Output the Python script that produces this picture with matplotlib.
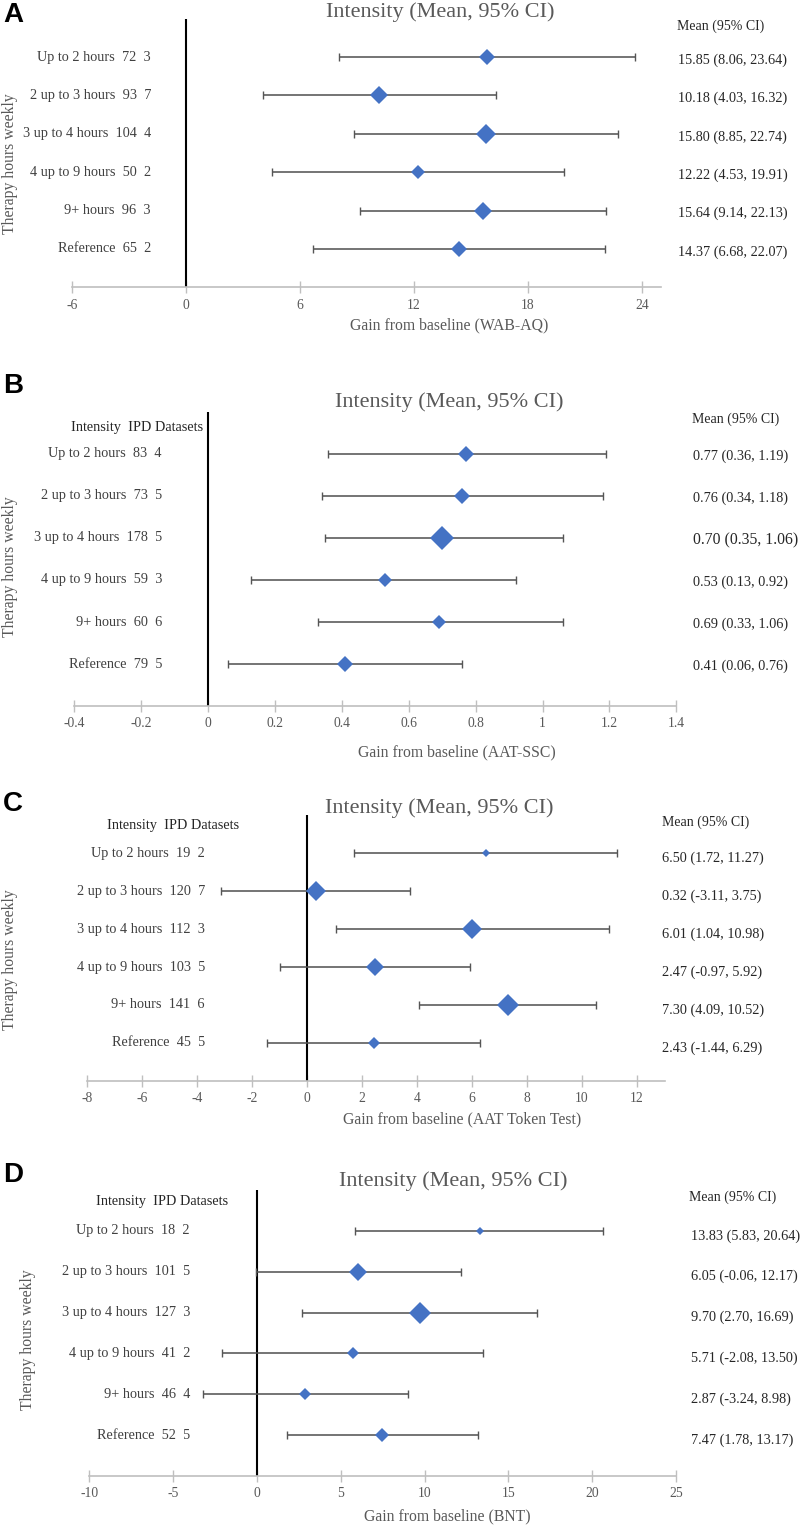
import numpy as np
import matplotlib
matplotlib.use("Agg")
import matplotlib.pyplot as plt
from matplotlib import transforms

plt.rcParams['font.family'] = ['Liberation Serif', 'DejaVu Serif']

# ---------------- data ----------------
categories = ["Up to 2 hours", "2 up to 3 hours", "3 up to 4 hours",
              "4 up to 9 hours", "9+ hours", "Reference"]

wab_ipd = [72, 93, 104, 50, 96, 65]
wab_datasets = [3, 7, 4, 2, 3, 2]
wab_mean = [15.85, 10.18, 15.80, 12.22, 15.64, 14.37]
wab_low = [8.06, 4.03, 8.85, 4.53, 9.14, 6.68]
wab_high = [23.64, 16.32, 22.74, 19.91, 22.13, 22.07]
wab_ticks = [-6, 0, 6, 12, 18, 24]
wab_tick_labels = ["-6", "0", "6", "12", "18", "24"]

ssc_ipd = [83, 73, 178, 59, 60, 79]
ssc_datasets = [4, 5, 5, 3, 6, 5]
ssc_mean = [0.77, 0.76, 0.70, 0.53, 0.69, 0.41]
ssc_low = [0.36, 0.34, 0.35, 0.13, 0.33, 0.06]
ssc_high = [1.19, 1.18, 1.06, 0.92, 1.06, 0.76]
ssc_ticks = [-0.4, -0.2, 0, 0.2, 0.4, 0.6, 0.8, 1.0, 1.2, 1.4]
ssc_tick_labels = ["-0.4", "-0.2", "0", "0.2", "0.4", "0.6", "0.8", "1", "1.2", "1.4"]

tok_ipd = [19, 120, 112, 103, 141, 45]
tok_datasets = [2, 7, 3, 5, 6, 5]
tok_mean = [6.50, 0.32, 6.01, 2.47, 7.30, 2.43]
tok_low = [1.72, -3.11, 1.04, -0.97, 4.09, -1.44]
tok_high = [11.27, 3.75, 10.98, 5.92, 10.52, 6.29]
tok_ticks = [-8, -6, -4, -2, 0, 2, 4, 6, 8, 10, 12]
tok_tick_labels = ["-8", "-6", "-4", "-2", "0", "2", "4", "6", "8", "10", "12"]

bnt_ipd = [18, 101, 127, 41, 46, 52]
bnt_datasets = [2, 5, 3, 2, 4, 5]
bnt_mean = [13.83, 6.05, 9.70, 5.71, 2.87, 7.47]
bnt_marker = [13.3, 6.05, 9.70, 5.71, 2.87, 7.47]   # where the diamonds are drawn
bnt_low = [5.83, -0.06, 2.70, -2.08, -3.24, 1.78]
bnt_high = [20.64, 12.17, 16.69, 13.50, 8.98, 13.17]
bnt_ticks = [-10, -5, 0, 5, 10, 15, 20, 25]
bnt_tick_labels = ["-10", "-5", "0", "5", "10", "15", "20", "25"]

# ---------------- layout (pixels) ----------------
W, H = 800, 1526
fig = plt.figure(figsize=(W / 100, H / 100), dpi=100)

def fx(x):
    return x / W

def fy(y):
    return 1 - y / H

panels = [
    dict(letter="A", ipd=wab_ipd, ds=wab_datasets, mean=wab_mean, marker=wab_mean,
         low=wab_low, high=wab_high, ticks=wab_ticks, tlabels=wab_tick_labels,
         xlim=(-6, 25), left=72, right=661, top=18.6, bottom=287.4,
         letter_y=15.5, title_x=440, title_y=17, lab_right=151, header=None,
         mh=(677, 26), vx=678, vdy=3, xl="Gain from baseline (WAB-AQ)",
         xl_pos=(449, 325), yl_pos=(10, 164), big_row=None),
    dict(letter="B", ipd=ssc_ipd, ds=ssc_datasets, mean=ssc_mean, marker=ssc_mean,
         low=ssc_low, high=ssc_high, ticks=ssc_ticks, tlabels=ssc_tick_labels,
         xlim=(-0.4, 1.4), left=74.2, right=676.3, top=412, bottom=706,
         letter_y=386, title_x=449, title_y=407, lab_right=162, header=(71, 427),
         mh=(692, 419), vx=693, vdy=2, xl="Gain from baseline (AAT-SSC)",
         xl_pos=(457, 752), yl_pos=(10, 567), big_row=2),
    dict(letter="C", ipd=tok_ipd, ds=tok_datasets, mean=tok_mean, marker=tok_mean,
         low=tok_low, high=tok_high, ticks=tok_ticks, tlabels=tok_tick_labels,
         xlim=(-8, 13), left=87, right=664.5, top=815, bottom=1081,
         letter_y=804, title_x=439, title_y=813, lab_right=205, header=(107, 826),
         mh=(662, 822), vx=662, vdy=5, xl="Gain from baseline (AAT Token Test)",
         xl_pos=(462, 1119), yl_pos=(10, 960), big_row=None),
    dict(letter="D", ipd=bnt_ipd, ds=bnt_datasets, mean=bnt_mean, marker=bnt_marker,
         low=bnt_low, high=bnt_high, ticks=bnt_ticks, tlabels=bnt_tick_labels,
         xlim=(-10, 25), left=89.4, right=676, top=1190, bottom=1476,
         letter_y=1175, title_x=453, title_y=1186, lab_right=190, header=(96, 1201),
         mh=(689, 1197), vx=691, vdy=5, xl="Gain from baseline (BNT)",
         xl_pos=(447, 1516), yl_pos=(28, 1340), big_row=None),
]

BLUE = "#4472C4"
GRAY = "#595959"
AXGRAY = "#BFBFBF"
TXT = "#262626"

for p in panels:
    ax = fig.add_axes([fx(p["left"]), fy(p["bottom"]),
                       (p["right"] - p["left"]) / W, (p["bottom"] - p["top"]) / H])
    ax.set_xlim(*p["xlim"])
    ax.set_ylim(0, 7)
    rows = np.arange(6, 0, -1)
    mean = np.array(p["mean"])
    low = np.array(p["low"])
    high = np.array(p["high"])

    ax.axvline(0, color="black", lw=1.5, zorder=2)
    ax.errorbar(mean, rows, xerr=[mean - low, high - mean], fmt="none",
                ecolor="#555555", elinewidth=1.15, capsize=2.6, capthick=1.0, zorder=3)
    for xm, r, n in zip(p["marker"], rows, p["ipd"]):
        ax.plot(xm, r, marker="D", ms=0.95 * np.sqrt(n), color=BLUE,
                mew=0, zorder=4, linestyle="none")

    for s in ["top", "right", "left"]:
        ax.spines[s].set_visible(False)
    ax.spines["bottom"].set_color(AXGRAY)
    ax.spines["bottom"].set_linewidth(1.2)
    ax.set_yticks([])
    ax.set_xticks(p["ticks"])
    ax.set_xticklabels(p["tlabels"])
    ax.tick_params(axis="x", direction="inout", length=8, width=1, color=AXGRAY,
                   labelcolor=GRAY, labelsize=9.8, pad=4)
    ax.patch.set_alpha(0)

    # row labels
    tr = transforms.blended_transform_factory(fig.transFigure, ax.transData)
    spacing = (p["bottom"] - p["top"]) / 7
    for cat, n, d, r in zip(categories, p["ipd"], p["ds"], rows):
        ax.text(fx(p["lab_right"]), r, f"{cat}  {n}  {d}", transform=tr,
                ha="right", va="center", fontsize=10.3, color="#404040")
    # right column
    for i, (m, lo, hi, r) in enumerate(zip(p["mean"], p["low"], p["high"], rows)):
        fs = 11.3 if p["big_row"] == i else 10.3
        ax.text(fx(p["vx"]), r - p["vdy"] / spacing, f"{m:.2f} ({lo:.2f}, {hi:.2f})",
                transform=tr, ha="left", va="center", fontsize=fs, color=TXT)

    fig.text(fx(p["mh"][0]), fy(p["mh"][1]), "Mean (95% CI)", ha="left", va="center",
             fontsize=10, color=TXT)
    if p["header"] is not None:
        fig.text(fx(p["header"][0]), fy(p["header"][1]), "Intensity  IPD Datasets",
                 ha="left", va="center", fontsize=10.3, color=TXT)

    fig.text(fx(p["title_x"]), fy(p["title_y"]), "Intensity (Mean, 95% CI)",
             ha="center", va="baseline", fontsize=16, color=GRAY)
    fig.text(fx(3), fy(p["letter_y"]), p["letter"], ha="left", va="center",
             fontsize=20, fontweight="bold", family="Liberation Sans", color="black")
    fig.text(fx(p["xl_pos"][0]), fy(p["xl_pos"][1]), p["xl"], ha="center", va="center",
             fontsize=11.3, color=GRAY)
    fig.text(fx(p["yl_pos"][0]), fy(p["yl_pos"][1]), "Therapy hours weekly",
             ha="center", va="center", rotation=90, fontsize=11.3, color=GRAY)

fig.savefig("out.png", dpi=100, facecolor="white")
